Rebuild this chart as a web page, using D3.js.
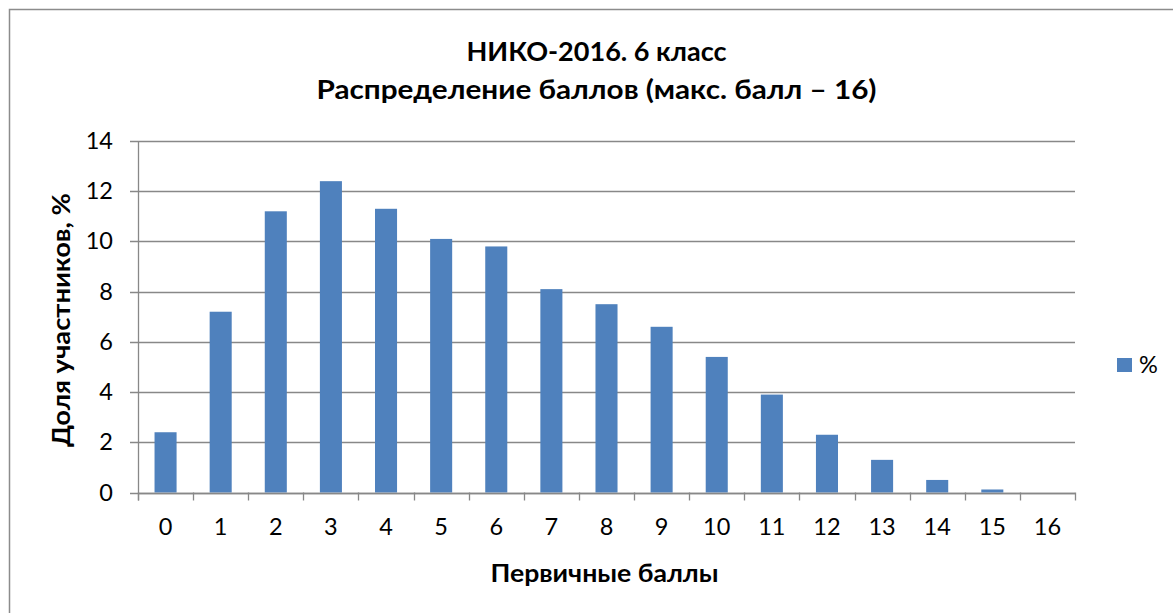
<!DOCTYPE html>
<html>
<head>
<meta charset="utf-8">
<script src="https://cdn.jsdelivr.net/npm/d3@7"></script>
<style>
  html, body { margin: 0; padding: 0; background: #fff; }
  svg { display: block; }
</style>
</head>
<body>
<svg id="chart" width="1173" height="613"></svg>
<script>
// ---- data ----
const categories = ["0","1","2","3","4","5","6","7","8","9","10","11","12","13","14","15","16"];
const values = [2.4, 7.2, 11.2, 12.4, 11.3, 10.1, 9.8, 8.1, 7.5, 6.6, 5.4, 3.9, 2.3, 1.3, 0.5, 0.12, 0];
const yTicks = [0, 2, 4, 6, 8, 10, 12, 14];
const seriesName = "%";
const titleLines = ["НИКО-2016. 6 класс", "Распределение баллов (макс. балл – 16)"];
const xTitle = "Первичные баллы";
const yTitle = "Доля участников, %";

// ---- layout ----
const W = 1173, H = 613;
const plot = { left: 138, right: 1075, top: 141, bottom: 492.5 };
const barColor = "#4F81BD";
const gridColor = "#888888";
const font = "Lato, 'Liberation Sans', sans-serif";

const svg = d3.select("#chart");
svg.append("rect").attr("width", W).attr("height", H).attr("fill", "#fff");
// chart border (extends past the window at right and bottom)
svg.append("rect").attr("x", 9.5).attr("y", 9.5).attr("width", 1400).attr("height", 800)
  .attr("fill", "none").attr("stroke", "#8c8c8c").attr("stroke-width", 1.5);

const x = d3.scaleBand().domain(categories).range([plot.left, plot.right])
  .paddingInner(0.6).paddingOuter(0.3);
const y = d3.scaleLinear().domain([0, 14]).range([plot.bottom, plot.top]);

// gridlines
svg.append("g").selectAll("line").data(yTicks).join("line")
  .attr("x1", plot.left - 8).attr("x2", plot.right)
  .attr("y1", d => Math.round(y(d)) + 0.5).attr("y2", d => Math.round(y(d)) + 0.5)
  .attr("stroke", gridColor).attr("stroke-width", 1.3);

// y axis line
svg.append("line").attr("x1", plot.left + 0.5).attr("x2", plot.left + 0.5)
  .attr("y1", plot.top).attr("y2", plot.bottom + 8)
  .attr("stroke", gridColor).attr("stroke-width", 1.3);

// x ticks at category boundaries
const boundaries = d3.range(categories.length + 1).map(i => plot.left + i * (plot.right - plot.left) / categories.length);
svg.append("g").selectAll("line").data(boundaries).join("line")
  .attr("x1", d => Math.round(d) + 0.5).attr("x2", d => Math.round(d) + 0.5)
  .attr("y1", plot.bottom).attr("y2", plot.bottom + 8)
  .attr("stroke", gridColor).attr("stroke-width", 1.3);

// bars
svg.append("g").selectAll("rect").data(values).join("rect")
  .attr("x", (d, i) => x(categories[i]))
  .attr("width", x.bandwidth())
  .attr("y", d => y(d))
  .attr("height", d => y(0) - y(d))
  .attr("fill", barColor);

// baseline over bars
svg.append("line").attr("x1", plot.left).attr("x2", plot.right)
  .attr("y1", Math.round(y(0)) + 0.5).attr("y2", Math.round(y(0)) + 0.5)
  .attr("stroke", gridColor).attr("stroke-width", 1.3);

// y tick labels
svg.append("g").selectAll("text").data(yTicks).join("text")
  .attr("x", 113).attr("y", d => y(d) + 8)
  .attr("text-anchor", "end")
  .attr("font-family", font).attr("font-size", 23.5).attr("fill", "#000")
  .text(d => d);

// x tick labels
svg.append("g").selectAll("text").data(categories).join("text")
  .attr("x", d => x(d) + x.bandwidth() / 2).attr("y", 535)
  .attr("text-anchor", "middle")
  .attr("font-family", font).attr("font-size", 23.5).attr("fill", "#000")
  .text(d => d);

// title
svg.append("text").attr("x", 596.5).attr("y", 61).attr("text-anchor", "middle")
  .attr("font-family", font).attr("font-weight", "bold").attr("font-size", 26.5)
  .attr("textLength", 260).attr("lengthAdjust", "spacingAndGlyphs")
  .text(titleLines[0]);
svg.append("text").attr("x", 596.5).attr("y", 99).attr("text-anchor", "middle")
  .attr("font-family", font).attr("font-weight", "bold").attr("font-size", 26.5)
  .attr("textLength", 560).attr("lengthAdjust", "spacingAndGlyphs")
  .text(titleLines[1]);

// axis titles
svg.append("text").attr("x", 604.5).attr("y", 581.5).attr("text-anchor", "middle")
  .attr("font-family", font).attr("font-weight", "bold").attr("font-size", 25)
  .attr("textLength", 228).attr("lengthAdjust", "spacingAndGlyphs")
  .text(xTitle);
svg.append("text").attr("transform", "translate(70,320) rotate(-90)")
  .attr("text-anchor", "middle")
  .attr("font-family", font).attr("font-weight", "bold").attr("font-size", 25)
  .attr("textLength", 254).attr("lengthAdjust", "spacingAndGlyphs")
  .text(yTitle);

// legend
svg.append("rect").attr("x", 1117).attr("y", 358).attr("width", 15).attr("height", 14)
  .attr("fill", barColor);
svg.append("text").attr("x", 1139).attr("y", 373)
  .attr("font-family", font).attr("font-size", 23.5).text(seriesName);
</script>
</body>
</html>
